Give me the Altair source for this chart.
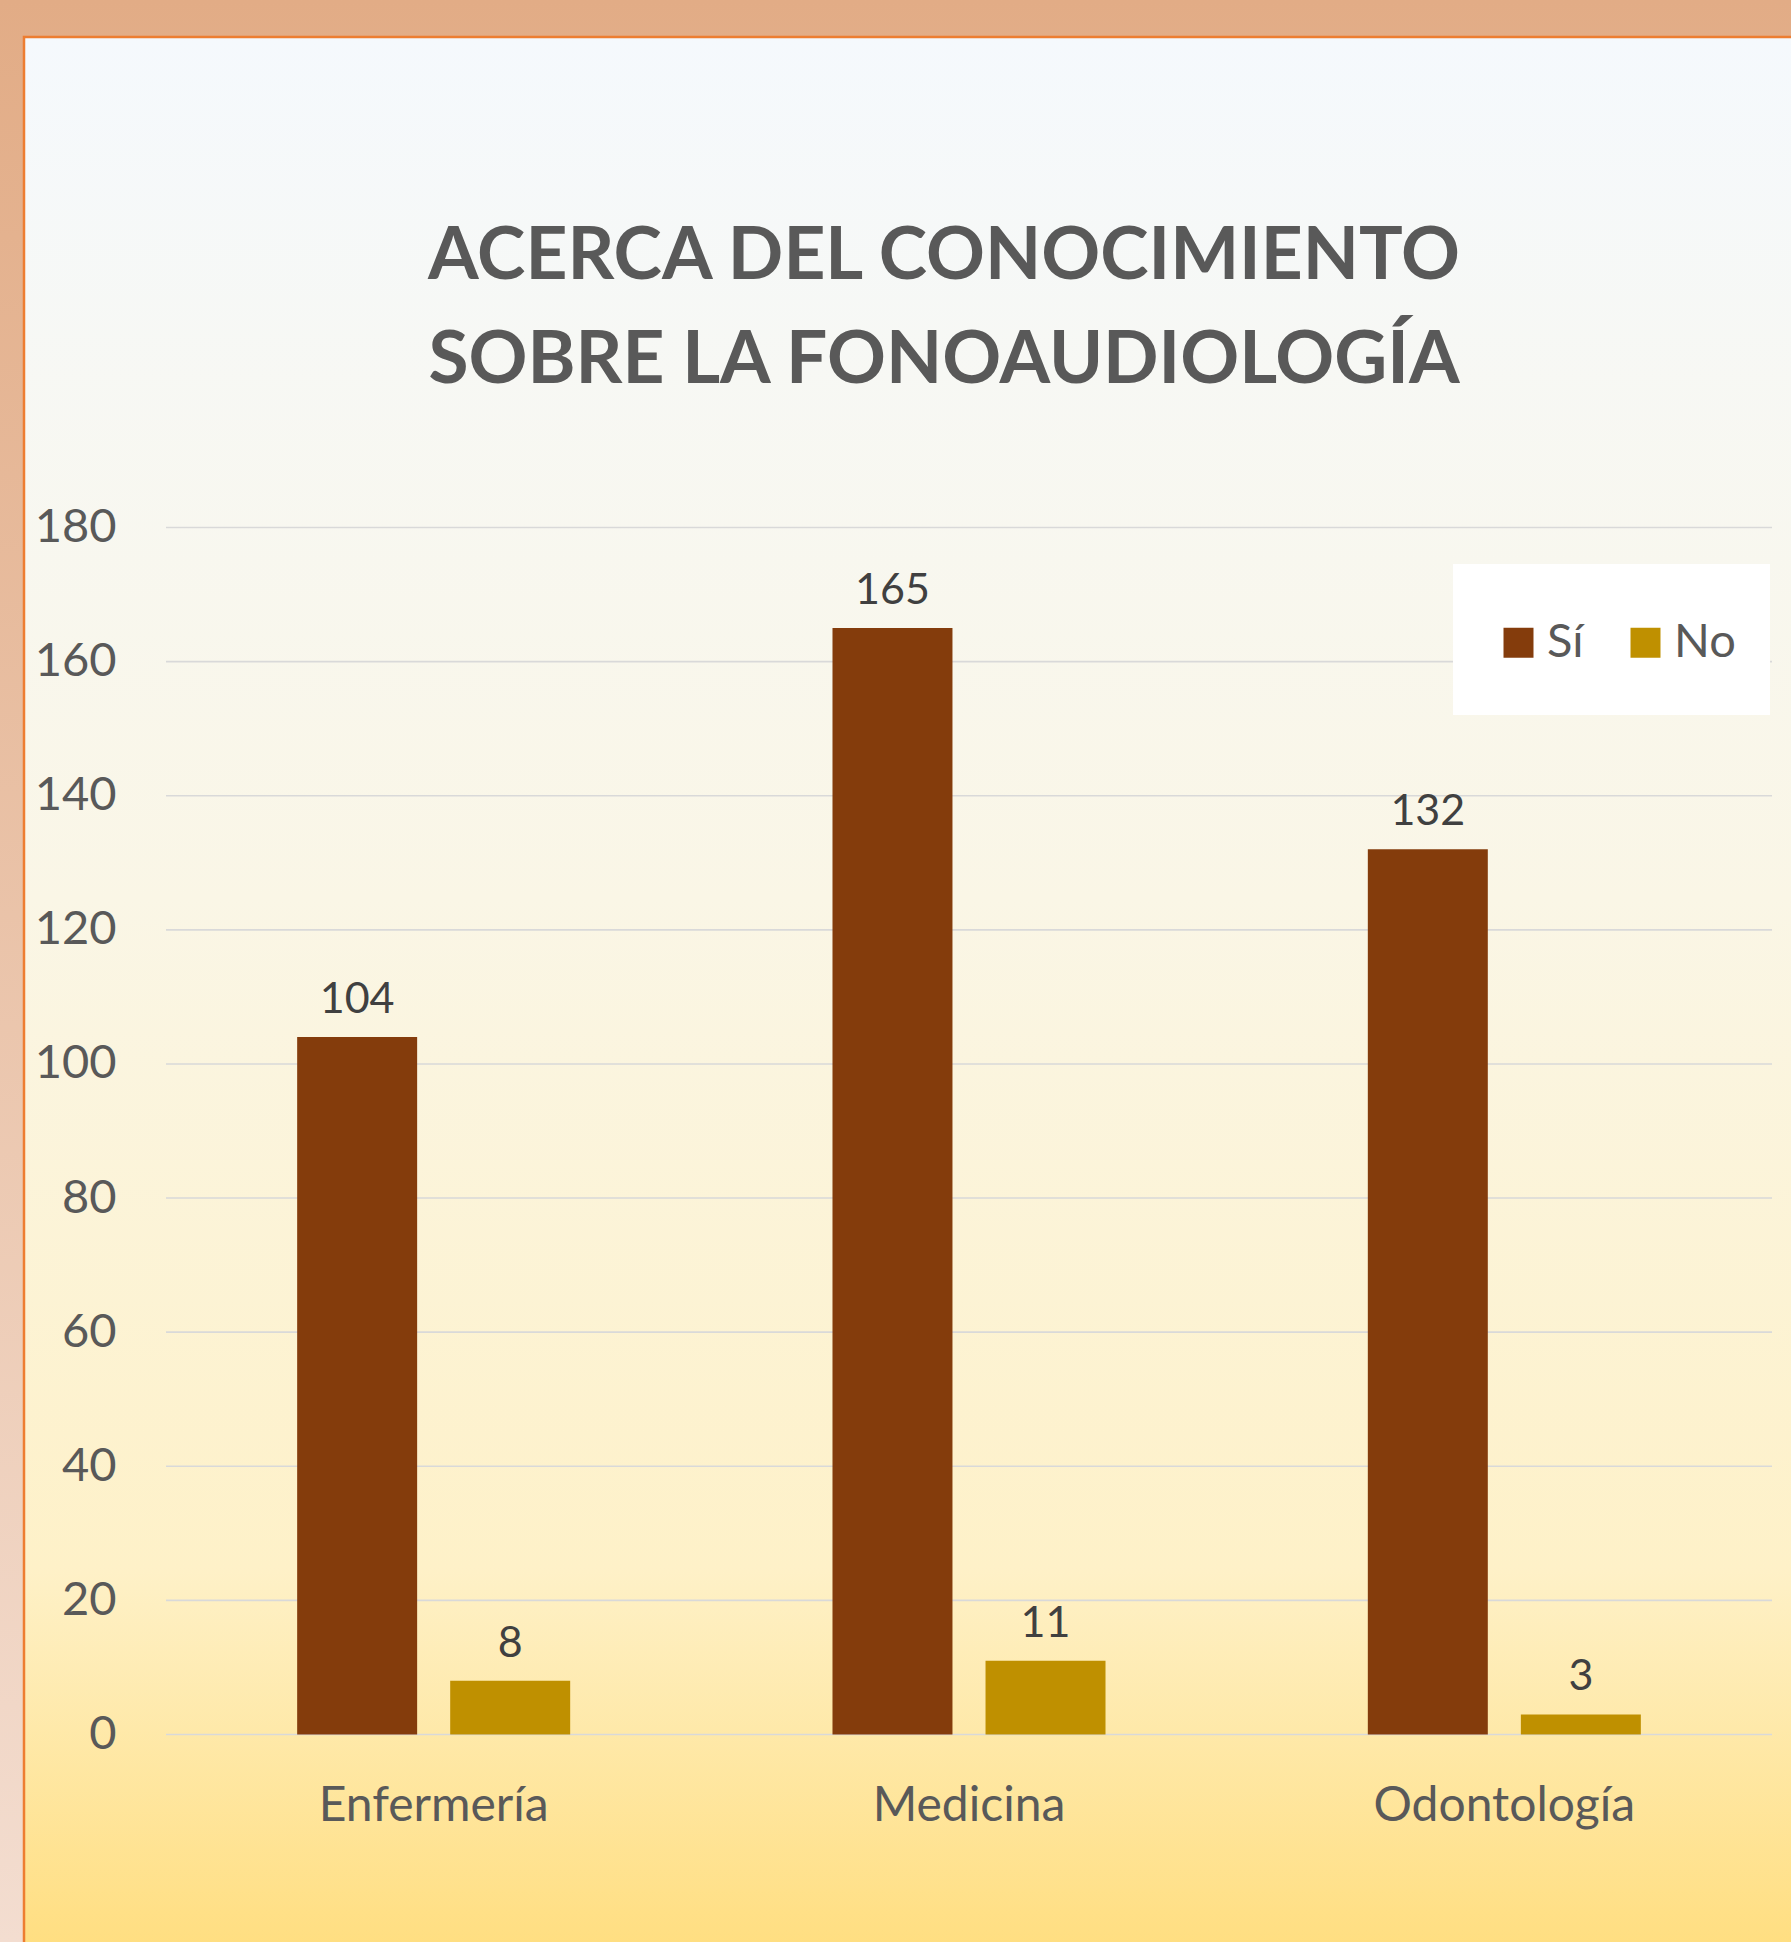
import altair as alt
import pandas as pd

CATEGORIES = ["Enfermería", "Medicina", "Odontología"]
SERIES = ["Sí", "No"]
SI = [104, 165, 132]
NO = [8, 11, 3]
Y_TICKS = [0, 20, 40, 60, 80, 100, 120, 140, 160, 180]
TITLE_LINES = ["ACERCA DEL CONOCIMIENTO", "SOBRE LA FONOAUDIOLOGÍA"]
COLORS = ["#843C0C", "#BF9000"]

rows = []
for c, s, n in zip(CATEGORIES, SI, NO):
    rows.append({"carrera": c, "respuesta": "Sí", "valor": s})
    rows.append({"carrera": c, "respuesta": "No", "valor": n})
df = pd.DataFrame(rows)
grid_df = pd.DataFrame({"valor": Y_TICKS})

W = 1606
H = 1207
PAD_L = 166
PAD_T = 527.5
FONT = "Lato"

y_scale = alt.Scale(domain=[0, 180], nice=False, zero=True)
one = alt.Data(values=[{"k": 1}])

outer = alt.Chart(one).mark_rect(
    fill=alt.Gradient(gradient="linear", x1=0, y1=0, x2=0, y2=1,
                      stops=[alt.GradientStop(offset=0, color="#E2AC86"),
                             alt.GradientStop(offset=1, color="#F3DDD0")])
).encode(x=alt.value(-PAD_L), x2=alt.value(1791 - PAD_L),
         y=alt.value(-PAD_T), y2=alt.value(1942 - PAD_T))

panel = alt.Chart(one).mark_rect(
    fill=alt.Gradient(gradient="linear", x1=0, y1=0, x2=0, y2=1,
                      stops=[alt.GradientStop(offset=0, color="#F5F9FD"),
                             alt.GradientStop(offset=0.45, color="#FAF6E6"),
                             alt.GradientStop(offset=0.8, color="#FEF1C8"),
                             alt.GradientStop(offset=1, color="#FFDE80")]),
    stroke="#ED7D31", strokeWidth=2.5
).encode(x=alt.value(24 - PAD_L), x2=alt.value(1800 - PAD_L),
         y=alt.value(37 - PAD_T), y2=alt.value(1950 - PAD_T))

grid = alt.Chart(grid_df).mark_rule(color="#D9D9D9", strokeWidth=1.6).encode(
    y=alt.Y("valor:Q", scale=y_scale),
    x=alt.value(0), x2=alt.value(W),
)

legend_box = alt.Chart(one).mark_rect(fill="#FFFFFF").encode(
    x=alt.value(1453 - PAD_L), x2=alt.value(1770 - PAD_L),
    y=alt.value(564 - PAD_T), y2=alt.value(715 - PAD_T))

x_enc = alt.X("carrera:N", sort=CATEGORIES,
              scale=alt.Scale(paddingInner=0.49, paddingOuter=0.245),
              axis=alt.Axis(title=None, labelFontSize=48, labelFont=FONT,
                            labelColor="#595959", labelPadding=48, ticks=False,
                            domain=False, grid=False, labelAngle=0, zindex=1,
                            labelLimit=1000))
xo_enc = alt.XOffset("respuesta:N", sort=SERIES,
                     scale=alt.Scale(paddingInner=0.216, paddingOuter=0))

bars = alt.Chart(df).mark_bar().encode(
    x=x_enc,
    xOffset=xo_enc,
    y=alt.Y("valor:Q", scale=y_scale,
            axis=alt.Axis(title=None, values=Y_TICKS, labelFontSize=47,
                          labelFont=FONT, labelColor="#595959", labelPadding=50,
                          ticks=False, domain=False, grid=False, zindex=1)),
    color=alt.Color("respuesta:N", sort=SERIES,
                    scale=alt.Scale(domain=SERIES, range=COLORS),
                    legend=alt.Legend(title=None, orient="none", legendX=1329,
                                      legendY=91.5, direction="horizontal",
                                      columns=2, padding=0, symbolType="square",
                                      symbolSize=900, symbolStrokeWidth=0,
                                      symbolOpacity=1, labelFont=FONT,
                                      labelFontSize=47, labelColor="#595959",
                                      labelOffset=5, columnPadding=38,
                                      labelLimit=500)),
)

labels = alt.Chart(df).mark_text(
    font=FONT, fontSize=43, color="#404040", baseline="alphabetic",
    align="center", dy=-24
).encode(
    x=alt.X("carrera:N", sort=CATEGORIES),
    xOffset=alt.XOffset("respuesta:N", sort=SERIES),
    y=alt.Y("valor:Q", scale=y_scale),
    text=alt.Text("valor:Q"),
)

t1 = alt.Chart(one).mark_text(
    font=FONT, fontSize=73, fontWeight="bold", color="#595959",
    baseline="alphabetic", align="center"
).encode(x=alt.value(944 - PAD_L), y=alt.value(279 - PAD_T),
         text=alt.value(TITLE_LINES[0]))
t2 = alt.Chart(one).mark_text(
    font=FONT, fontSize=73, fontWeight="bold", color="#595959",
    baseline="alphabetic", align="center"
).encode(x=alt.value(944 - PAD_L), y=alt.value(383 - PAD_T),
         text=alt.value(TITLE_LINES[1]))

chart = alt.layer(outer, panel, grid, legend_box, bars, labels, t1, t2).properties(
    width=W, height=H,
    autosize=alt.AutoSizeParams(type="none"),
    padding={"left": PAD_L, "top": PAD_T, "right": 1791 - PAD_L - W,
             "bottom": 1942 - PAD_T - H},
    background="#E2AC86",
).configure_view(stroke=None)

chart.save("out.html", embed_options={"renderer": "svg", "actions": False})
